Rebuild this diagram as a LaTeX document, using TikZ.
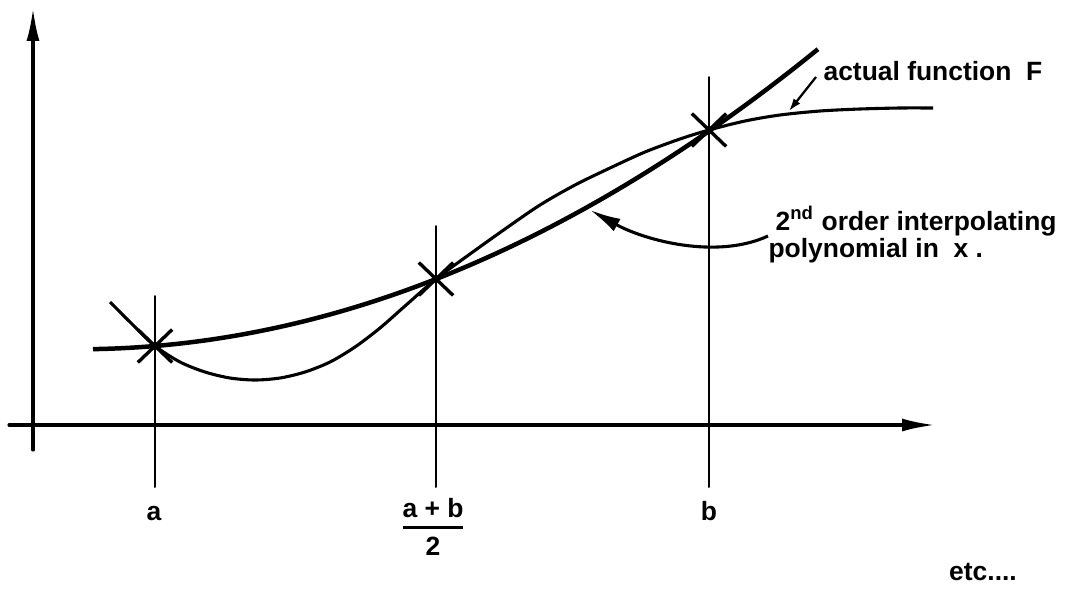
\documentclass[tikz,border=0pt]{standalone}
\usepackage{fontspec}
\setmainfont{Liberation Sans}
\usepackage{amsmath}
\usetikzlibrary{arrows.meta,calc,shapes.misc}
\usepackage{tkz-euclide}

\tikzset{
  lbl/.style={font=\bfseries\fontsize{9.4}{9.6}\selectfont,inner sep=0pt},
  xmark/.style={cross out,draw,line width=1.2pt,minimum width=11pt,minimum height=10.5pt,inner sep=0pt},
  axis/.style={line width=1.1pt,-{Latex[length=11.7pt,width=4.6pt]}},
  pointer/.style={line width=1.1pt,-{Latex[length=11pt,width=5pt]}}
}

\begin{document}
\begin{tikzpicture}[scale=.5]
\useasboundingbox (0,0) rectangle (26.85,14.7);
\tkzSetUpLine[line width=.7pt,color=black]

\tkzDefPoints{0.825/3.45/Y0,0.825/14.5/Y1,0.225/4.075/X0,23.375/4.075/X1}
\tkzDefPoints{3.875/2.525/A0,3.875/7.3/A1,10.9/2.525/M0,10.9/9.05/M1,17.725/2.525/B0,17.725/12.775/B1}
\tkzDefPoints{3.875/6.05/A,10.9/7.725/M,17.725/11.45/B}

% axes
\tkzDrawSegments[axis](Y0,Y1 X0,X1)
% ordinates
\tkzDrawSegments(A0,A1 M0,M1 B0,B1)

% interpolating polynomial
\draw[line width=1.6pt] plot[domain=2.325:20.45,samples=80] (\x,{6.0525+0.02192*\x*\x-0.0856*\x});
% actual function
\draw[line width=1.1pt] plot[smooth,tension=.5] coordinates {(2.75,7.15) (3.375,6.525) (3.875,6.05) (4.5,5.65) (5.125,5.4) (5.75,5.25) (6.375,5.2) (7.0,5.25) (7.625,5.4) (8.25,5.65) (8.875,6.025) (9.5,6.5) (10.125,7.05) (10.9,7.725) (11.75,8.35) (12.625,8.975) (13.5,9.575) (14.375,10.075) (15.25,10.5) (16.125,10.9) (17.0,11.225) (17.725,11.45) (18.625,11.675) (19.5,11.825) (20.5,11.925) (21.5,11.975) (22.5,12.0) (23.325,12.0)};

\node[xmark] (xa) at (A) {};
\node[xmark] (xm) at (M) {};
\node[xmark] (xb) at (B) {};

\node[lbl,anchor=base] (la) at (3.85,1.7) {a};
\node[lbl] (lab) at (10.825,1.525) {$\genfrac{}{}{1pt}{0}{\textbf{a + b}}{\textbf{2}}$};
\node[lbl,anchor=base] (lb) at (17.725,1.7) {b};

\node[lbl,anchor=base west] (lF) at (20.575,12.7) {actual function\ \ F};
\node[lbl,anchor=base west] (lpA) at (19.375,8.95) {2\textsuperscript{nd} order interpolating};
\node[lbl,anchor=base west] (lpB) at (19.2,8.275) {polynomial in\ \ x .};
\node[lbl] (letc) at (24.575,0.4) {etc....};

\coordinate (fS) at (20.4,12.775);
\coordinate (fE) at (19.725,11.925);
\draw[line width=.8pt,-{Latex[length=4.5pt,width=3pt]}] (fS) -- (fE);

\coordinate (pS) at (19.2,8.8);
\coordinate (pE) at (14.75,9.45);
\draw[pointer] (pS) .. controls (17.9,8.2) and (16.1,8.7) .. (pE);

\end{tikzpicture}
\end{document}
